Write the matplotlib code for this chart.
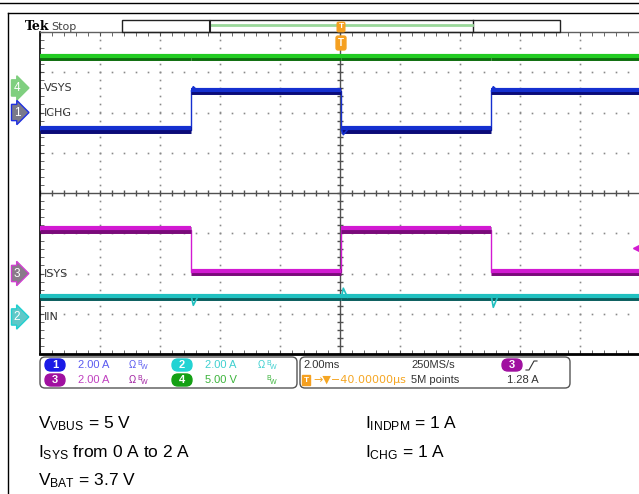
import matplotlib
matplotlib.use("Agg")
import matplotlib.pyplot as plt
import numpy as np
from matplotlib.patches import FancyBboxPatch, Rectangle
from matplotlib.transforms import blended_transform_factory

plt.rcParams['font.family'] = ['Liberation Sans', 'DejaVu Sans']
plt.rcParams['mathtext.fontset'] = 'custom'
plt.rcParams['mathtext.rm'] = 'Liberation Sans'

# scope settings: 2 ms/div, 10 x 8 divisions, trigger in the middle
ms_per_div = 2.0
edges_ms = [-4.95, 0.05, 5.05]

names = ["VSYS", "ICHG", "ISYS", "IIN"]
numbers = ["4", "1", "3", "2"]
scales = [5.0, 2.0, 2.0, 2.0]          # units per division
positions = [2.61, 2.0, -2.0, -3.08]   # ground marker, divisions
vsys_levels = [3.82, 3.86, 3.82, 3.86]
ichg_levels = [-0.85, 1.08, -0.85, 1.08]
isys_levels = [2.18, 0.08, 2.18, 0.08]
iin_levels = [0.98, 0.98, 0.98, 0.98]
# short spikes at the load steps
ichg_spikes = [0.2, -0.25, 0.2]
iin_spikes = [-0.4, 0.45, -0.5]
trig_level = 1.28

bright = ["#22cc22", "#1530d0", "#d21ad2", "#20c0c0"]
dark = ["#0e6e0e", "#0b0b78", "#7a0a7a", "#0b5e5e"]
marker_fill = ["#7fcf7f", "#7a7a8a", "#8a7a8a", "#5fc8c8"]
marker_edge = ["#7fcf7f", "#2030e0", "#d040d0", "#20d0d0"]

W, H = 639, 494
fig = plt.figure(figsize=(W / 100, H / 100), dpi=100)

# screen axes in ms and vertical divisions
ax = fig.add_axes([40 / W, (H - 354) / H, 600 / W, 322 / H])
ax.set_xlim(-5 * ms_per_div, 5 * ms_per_div)
ax.set_ylim(-4, 4)

bounds = [-5 * ms_per_div] + edges_ms + [5 * ms_per_div]
all_levels = [vsys_levels, ichg_levels, isys_levels, iin_levels]
all_spikes = [None, ichg_spikes, None, iin_spikes]
px = 1 / 40.25  # one pixel in divisions

for i, levels in enumerate(all_levels):
    y = [positions[i] + v / scales[i] for v in levels]
    t = np.repeat(bounds, 2)[1:-1]
    ax.plot(t, np.repeat(y, 2), color=bright[i], lw=1, zorder=3)
    for k in range(len(levels)):
        ax.plot(bounds[k:k + 2], [y[k], y[k]], color=dark[i], lw=5,
                solid_capstyle='butt', zorder=3)
        ax.plot(bounds[k:k + 2], [y[k] + 1.2 * px, y[k] + 1.2 * px],
                color=bright[i], lw=3, solid_capstyle='butt', zorder=4)
    if all_spikes[i] is not None:
        for k, (te, a) in enumerate(zip(edges_ms, all_spikes[i])):
            yl = y[k + 1]
            ax.plot([te, te + 0.06, te + 0.2], [yl, yl + a / scales[i], yl],
                    color=bright[i], lw=1.2, zorder=5)

# graticule
minor_x = np.arange(-10, 10.01, 0.4)
minor_y = np.arange(-4, 4.01, 0.2)
for gx in np.arange(-8, 9, 2):
    if gx != 0:
        ax.plot(np.full_like(minor_y, gx), minor_y, ls='none', marker='s',
                ms=1.2, mew=0, color='#8a8a8a', zorder=1)
for gy in np.arange(-3, 4, 1):
    if gy != 0:
        ax.plot(minor_x, np.full_like(minor_x, gy), ls='none', marker='s',
                ms=1.2, mew=0, color='#8a8a8a', zorder=1)
ax.axhline(0, color='#505050', lw=1, zorder=1)
ax.axvline(0, color='#505050', lw=1, zorder=1)
ax.plot(minor_x, np.zeros_like(minor_x), ls='none', marker='|', ms=5,
        color='#505050', zorder=1)
ax.plot(np.zeros_like(minor_y), minor_y, ls='none', marker='_', ms=5,
        color='#505050', zorder=1)

ax.set_xticks(np.arange(-10, 10.01, 2))
ax.set_xticks(minor_x, minor=True)
ax.set_yticks(np.arange(-4, 4.01, 1))
ax.set_yticks(minor_y, minor=True)
ax.tick_params(which='both', direction='in', top=True, bottom=True, left=True,
               right=False, length=3, color='#505050', labelbottom=False,
               labelleft=False)
ax.spines['right'].set_visible(False)
ax.spines['left'].set_color('black')
ax.spines['left'].set_linewidth(1.2)
ax.spines['bottom'].set_color('black')
ax.spines['bottom'].set_linewidth(2)
ax.spines['top'].set_color('#606060')
ax.spines['top'].set_linewidth(1)

# channel ground markers and names
tr = blended_transform_factory(ax.transAxes, ax.transData)
for i in range(4):
    ax.text(-0.044, positions[i], numbers[i], transform=tr, ha='left', va='center',
            fontsize=8.5, color='white', clip_on=False,
            bbox=dict(boxstyle='rarrow,pad=0.18', fc=marker_fill[i],
                      ec=marker_edge[i], lw=1))
    ax.text(0.006, positions[i], names[i], transform=tr, ha='left', va='center',
            fontsize=8, color='#333333', family='DejaVu Sans', zorder=6)

# trigger level marker (channel 3)
ax.plot([9.9], [positions[2] + trig_level / scales[2]], marker='<', ms=6,
        color='#d21ad2', clip_on=False, zorder=5)

# overlay for the frame, status bar, readouts and notes (pixel coordinates)
ov = fig.add_axes([0, 0, 1, 1], facecolor='none')
ov.set_xlim(0, W)
ov.set_ylim(H, 0)
ov.axis('off')

ov.plot([0, W], [3, 3], color='black', lw=1)
ov.plot([8, W], [13, 13], color='black', lw=1)
ov.plot([8, 8], [13, H], color='black', lw=1)

ov.text(25, 30, "Tek", fontsize=9, fontweight='bold', family='DejaVu Serif')
ov.text(51, 30, "Stop", fontsize=8, color='#444444', family='DejaVu Sans')

ov.add_patch(Rectangle((122, 20), 438, 12, fill=False, ec='#222222', lw=1))
ov.plot([473, 473], [20, 32], color='#222222', lw=1)
ov.plot([211, 472], [25, 25], color='#9ad89a', lw=2)
ov.plot([210, 210], [21, 31], color='#222222', lw=1.5)

ov.text(341, 27, "T", fontsize=6, color='white', ha='center', va='center',
        fontweight='bold', bbox=dict(boxstyle='round,pad=0.15', fc='#f5a020', ec='#f5a020'))
ov.text(341, 43, "T", fontsize=7, color='white', ha='center', va='center',
        fontweight='bold', bbox=dict(boxstyle='round,pad=0.2', fc='#f5a020', ec='#f5a020'))

# readout boxes
ov.add_patch(FancyBboxPatch((40, 357), 257, 31, boxstyle='round,pad=0,rounding_size=5',
                            fc='white', ec='#555555', lw=1))
ov.add_patch(FancyBboxPatch((300, 357), 270, 31, boxstyle='round,pad=0,rounding_size=5',
                            fc='white', ec='#555555', lw=1))


def badge(x, y, s, c):
    ov.add_patch(FancyBboxPatch((x - 10, y - 6), 20, 12,
                                boxstyle='round,pad=0,rounding_size=6', fc=c, ec=c))
    ov.text(x, y, s, fontsize=8, color='white', ha='center', va='center',
            fontweight='bold')


def bw(x, y, c, omega=True):
    if omega:
        ov.text(x, y, "Ω", fontsize=7, color=c, va='center')
    ov.text(x + 8, y - 2, "B", fontsize=5, color=c, va='center')
    ov.text(x + 12, y + 2, "W", fontsize=5, color=c, va='center')


r1, r2 = 365, 380
badge(55, r1, "1", "#1a1ae6")
ov.text(78, r1, "2.00 A", fontsize=8, color='#5b5bf0', va='center')
bw(129, r1, '#5b5bf0')
badge(182, r1, "2", "#22d3d3")
ov.text(205, r1, "2.00 A", fontsize=8, color='#40d0d0', va='center')
bw(258, r1, '#40d0d0')
badge(55, r2, "3", "#a010a0")
ov.text(78, r2, "2.00 A", fontsize=8, color='#c040c0', va='center')
bw(129, r2, '#a020a0')
badge(182, r2, "4", "#14a014")
ov.text(205, r2, "5.00 V", fontsize=8, color='#3cb43c', va='center')
bw(258, r2, '#3cb43c', omega=False)

ov.text(303, r1, "2.00ms", fontsize=8, color='#333333', va='center')
ov.text(411, r1, "250MS/s", fontsize=8, color='#333333', va='center')
badge(512, r1, "3", "#a010a0")
ov.plot([526, 529, 534, 537], [370, 370, 361, 361], color='#333333', lw=0.8)
ov.text(306, r2, "T", fontsize=6, color='white', ha='center', va='center',
        fontweight='bold', bbox=dict(boxstyle='square,pad=0.2', fc='#f5a020', ec='#f5a020'))
ov.text(313, r2, "→▼−40.00000µs", fontsize=8, color='#f5a623', va='center',
        family='DejaVu Sans')
ov.text(411, r2, "5M points", fontsize=8, color='#333333', va='center')
ov.text(507, r2, "1.28 A", fontsize=8, color='#333333', va='center')

# test conditions
notes_left = [r"$\mathrm{V_{VBUS}}$ = 5 V", r"$\mathrm{I_{SYS}}$ from 0 A to 2 A",
              r"$\mathrm{V_{BAT}}$ = 3.7 V"]
notes_right = [r"$\mathrm{I_{INDPM}}$ = 1 A", r"$\mathrm{I_{CHG}}$ = 1 A"]
baselines = [428, 457, 485]
for s, yb in zip(notes_left, baselines):
    ov.text(38, yb, s, fontsize=12.5, color='black', va='baseline')
for s, yb in zip(notes_right, baselines):
    ov.text(365, yb, s, fontsize=12.5, color='black', va='baseline')

fig.savefig("out.png", dpi=100)
